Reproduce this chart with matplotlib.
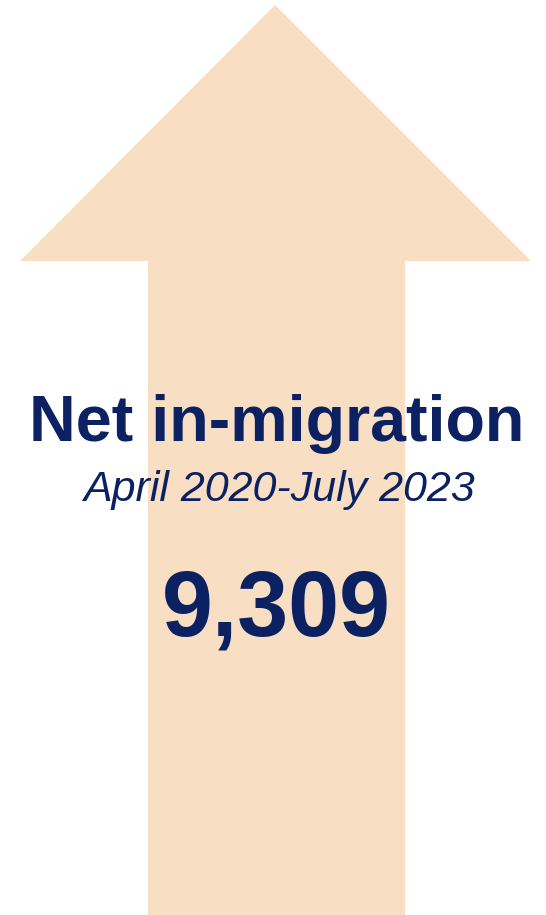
import matplotlib
matplotlib.use("Agg")
import matplotlib.pyplot as plt
from matplotlib.patches import Polygon

# Headline figures
title = "Net in-migration"
period = "April 2020-July 2023"
net_migration = 9309

ARROW_COLOR = "#F8DFC3"
TEXT_COLOR = "#0B2161"

W, H = 546, 915
fig = plt.figure(figsize=(W / 100, H / 100), dpi=100)
ax = fig.add_axes([0, 0, 1, 1])
ax.set_xlim(0, W)
ax.set_ylim(H, 0)
ax.axis("off")

# Up arrow: triangular head on a wide shaft running off the bottom
arrow = [
    (275, 5), (531, 261), (405, 261), (405, 915),
    (148, 915), (148, 261), (20, 261),
]
ax.add_patch(Polygon(arrow, closed=True, facecolor=ARROW_COLOR, edgecolor="none"))

font = ["Liberation Sans", "DejaVu Sans"]
ax.text(277, 441, title, ha="center", va="baseline", fontsize=46.5,
        fontweight="bold", color=TEXT_COLOR, family=font)
ax.text(279, 501, period, ha="center", va="baseline", fontsize=31,
        fontstyle="italic", color=TEXT_COLOR, family=font)
ax.text(276, 635, f"{net_migration:,}", ha="center", va="baseline", fontsize=66,
        fontweight="bold", color=TEXT_COLOR, family=font)

fig.savefig("out.png", dpi=100, facecolor="white")
